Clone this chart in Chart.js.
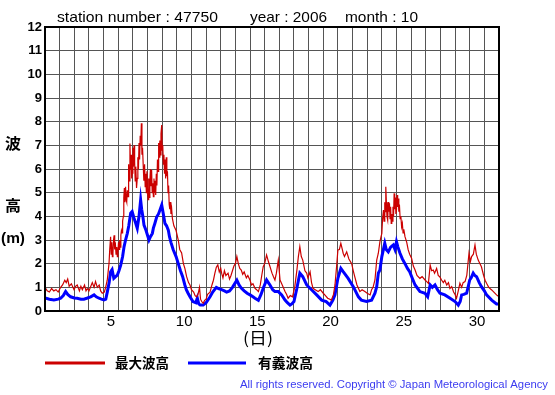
<!DOCTYPE html>
<html>
<head>
<meta charset="utf-8">
<script src="https://cdn.jsdelivr.net/npm/chart.js@4.4.1/dist/chart.umd.min.js"></script>
<style>
  html, body { margin: 0; padding: 0; background: #fff; }
  #wrap { width: 555px; height: 395px; }
</style>
</head>
<body>
<div id="wrap"><canvas id="waveChart" width="555" height="395"></canvas></div>
<script>
// Wave height, station 47750, October 2006 (time in days since Oct 1 00:00)
const seriesNames = ['最大波高', '有義波高'];
const xLabelDays = [5, 10, 15, 20, 25, 30];
const yTicks = [0, 1, 2, 3, 4, 5, 6, 7, 8, 9, 10, 11, 12];

const maxTimes = [
    0.0, 0.15, 0.3, 0.45, 0.6, 0.75, 0.9, 1.07, 1.2, 1.35, 1.45, 1.55, 1.65, 1.8, 1.98, 2.1, 2.2, 2.35, 2.45, 2.55, 2.7, 2.8, 2.89, 3.0, 3.1, 3.23, 3.35, 3.45, 3.57, 3.7, 3.8, 3.91, 4.05, 4.14, 4.25,
    4.37, 4.42, 4.48, 4.52, 4.56, 4.6, 4.64, 4.68, 4.72, 4.76, 4.8, 4.85, 4.9, 4.94, 4.98, 5.02, 5.06, 5.1, 5.14, 5.18, 5.22, 5.26, 5.3, 5.35, 5.38,
    5.42, 5.46, 5.5, 5.54, 5.58, 5.62, 5.67, 5.71, 5.75, 5.8,
    5.84, 5.88, 5.92, 5.96, 6.0, 6.04, 6.08, 6.12, 6.16, 6.2,
    6.25, 6.3, 6.34, 6.38, 6.42, 6.46, 6.5, 6.54, 6.58, 6.62,
    6.66, 6.71, 6.75, 6.8, 6.84, 6.88, 6.92, 6.96, 7.0, 7.04,
    7.08, 7.12, 7.16, 7.2, 7.24, 7.28, 7.32, 7.36, 7.4, 7.44,
    7.48, 7.52, 7.56, 7.6, 7.64, 7.68, 7.72, 7.76, 7.8, 7.84,
    7.88, 7.92, 7.97, 8.0, 8.04, 8.08, 8.12, 8.16, 8.2, 8.24,
    8.28, 8.32, 8.36, 8.4, 8.44, 8.48, 8.52, 8.56, 8.6, 8.65,
    8.7, 8.8, 8.95, 9.1, 9.2, 9.33, 9.45, 9.55, 9.67, 9.8, 9.9, 10.0, 10.15, 10.25, 10.35, 10.45, 10.55, 10.62, 10.7, 10.8, 10.9, 11.0, 11.1, 11.27, 11.4, 11.5, 11.6, 11.7, 11.8, 11.9, 12.0, 12.06, 12.15, 12.25, 12.35, 12.5, 12.6, 12.7, 12.8, 12.9, 13.0, 13.1, 13.2, 13.3, 13.4, 13.5, 13.6, 13.75, 13.85, 14.0, 14.1, 14.2, 14.34, 14.45, 14.57, 14.7, 14.8, 14.9, 15.0, 15.13, 15.25, 15.35, 15.5, 15.6, 15.7, 15.8, 15.93, 16.05, 16.2, 16.39, 16.5, 16.6, 16.75, 16.9, 17.05, 17.2, 17.3, 17.4, 17.5, 17.6, 17.75, 17.87, 17.95, 18.1, 18.2, 18.3, 18.45, 18.65, 18.8, 19.0, 19.15, 19.3, 19.45, 19.55, 19.7, 19.8, 19.9, 20.0, 20.1, 20.2, 20.3, 20.36, 20.45, 20.6, 20.75, 20.94, 21.05, 21.15, 21.3, 21.5, 21.65, 21.84, 22.0, 22.2, 22.3, 22.4, 22.53, 22.65, 22.76,
    22.87, 22.93, 23.0, 23.05, 23.11, 23.15, 23.2, 23.24, 23.27, 23.31,
    23.35, 23.4, 23.44, 23.48, 23.52, 23.56, 23.6, 23.64, 23.68, 23.72,
    23.76, 23.8, 23.84, 23.88, 23.92, 23.96, 24.0, 24.04, 24.08, 24.12,
    24.16, 24.2, 24.25, 24.3, 24.35, 24.4, 24.45, 24.5,
    24.58, 24.7, 24.8, 24.9, 25.03, 25.15, 25.27, 25.4, 25.6, 25.75, 25.95, 26.05, 26.18, 26.3, 26.4, 26.51, 26.6, 26.74, 26.85, 26.95, 27.08, 27.2, 27.3, 27.43, 27.55, 27.65, 27.77, 27.9, 28.0, 28.1, 28.2, 28.33, 28.45, 28.55, 28.68, 28.8, 28.95, 29.05, 29.13, 29.25, 29.36, 29.45, 29.58, 29.7, 29.8, 29.95, 30.05, 30.15, 30.3, 30.5, 30.65, 30.83, 31.0
];
const maxValues = [
    1.0, 0.85, 0.8, 0.95, 0.85, 0.9, 0.8, 1.0, 1.1, 1.3, 1.2, 1.35, 1.05, 1.15, 0.9, 1.05, 1.1, 0.85, 1.05, 0.9, 1.1, 0.85, 0.95, 0.85, 1.0, 1.2, 1.0, 1.25, 1.0, 1.1, 0.85, 0.75, 0.8, 1.0, 1.3,
    2.0, 2.6, 3.14, 2.4, 2.9, 2.3, 2.44, 3.0, 3.2, 2.6, 2.9, 2.4, 2.7, 2.3, 2.5, 2.9, 2.6, 3.0, 2.7, 3.2, 3.4, 3.3, 3.8, 4.0, 4.8,
    5.2, 4.6, 5.25, 4.7, 4.6, 5.1, 4.83, 6.2, 5.5, 7.08,
    6.0, 6.6, 5.6, 5.82, 6.9, 6.1, 7.0, 6.3, 5.5, 6.1,
    5.2, 5.6, 6.5, 6.0, 7.1, 6.4, 7.4, 7.0, 7.93, 6.6,
    6.9, 6.1, 5.5, 6.2, 5.25, 5.8, 5.0, 5.9, 5.1, 4.7,
    5.6, 4.8, 5.5, 6.0, 5.3, 5.96, 5.0, 5.4, 4.83, 5.6,
    5.0, 5.5, 4.9, 5.8, 5.3, 6.4, 5.9, 7.1, 6.5, 7.2,
    6.6, 7.5, 7.86, 6.8, 7.0, 6.2, 6.6, 5.8, 6.4, 5.6,
    6.5, 5.7, 5.9, 5.0, 5.3, 4.5, 4.3, 4.6, 4.1, 4.3,
    3.9, 3.6, 3.4, 3.0, 2.6, 2.45, 2.0, 1.8, 1.45, 1.2, 1.1, 0.9, 0.8, 0.65, 0.6, 0.7, 1.0, 0.5, 0.4, 0.33, 0.45, 0.5, 0.7, 0.8, 1.1, 1.3, 1.6, 1.85, 1.95, 1.65, 1.8, 1.6, 1.4, 1.7, 1.5, 1.6, 1.35, 1.5, 1.7, 1.9, 2.0, 2.3, 2.0, 1.8, 1.73, 1.55, 1.65, 1.4, 1.5, 1.3, 1.1, 1.15, 0.96, 0.9, 0.82, 1.1, 1.5, 1.87, 2.0, 2.37, 2.1, 1.9, 1.6, 1.45, 1.31, 1.6, 2.15, 1.31, 1.1, 0.82, 0.7, 0.54, 0.65, 0.6, 1.0, 1.73, 2.3, 2.72, 2.3, 2.15, 1.7, 1.6, 1.4, 1.66, 1.2, 0.96, 0.9, 0.82, 0.9, 0.75, 0.65, 0.54, 0.5, 0.46, 0.7, 1.1, 1.8, 2.58, 2.6, 2.86, 2.6, 2.44, 2.3, 2.5, 2.2, 2.0, 1.7, 1.45, 1.1, 0.82, 0.9, 0.82, 0.75, 0.68, 0.9, 1.0, 1.31, 2.15, 2.44,
    2.93, 3.1, 3.28, 3.9, 4.27, 3.8, 4.6, 4.2, 5.25, 4.6,
    4.0, 3.84, 4.6, 4.2, 4.55, 3.9, 4.4, 3.7, 4.1, 3.8,
    4.4, 4.0, 4.97, 4.3, 4.8, 4.1, 4.27, 4.9, 4.4, 4.75,
    4.2, 4.5, 3.9, 4.0, 3.56, 3.7, 3.3, 3.45,
    3.14, 2.9, 2.58, 2.4, 2.23, 1.9, 1.73, 1.5, 1.38, 1.45, 1.31, 1.25, 1.17, 1.94, 1.7, 1.73, 1.6, 1.8, 1.5, 1.45, 1.31, 1.2, 1.3, 1.1, 1.2, 0.95, 1.03, 0.8, 0.7, 0.54, 0.8, 1.17, 1.0, 1.2, 1.24, 1.5, 2.44, 2.1, 2.3, 2.4, 2.79, 2.4, 2.15, 2.0, 1.87, 1.5, 1.3, 1.17, 1.0, 0.89, 0.8, 0.68, 0.6
];

const sigTimes = [0.0, 0.3, 0.61, 0.9, 1.07, 1.25, 1.41, 1.55, 1.75, 2.0, 2.2, 2.45, 2.66, 2.9, 3.12, 3.35, 3.5, 3.69, 3.85, 4.03, 4.15, 4.26, 4.38, 4.48, 4.58, 4.7, 4.82, 4.94, 5.05, 5.17, 5.3, 5.4, 5.5, 5.62, 5.72, 5.85, 5.95, 6.08, 6.2, 6.3, 6.42, 6.53, 6.6, 6.68, 6.76, 6.9, 7.0, 7.1, 7.2, 7.33, 7.4, 7.5, 7.63, 7.75, 7.85, 7.97, 8.08, 8.19, 8.3, 8.42, 8.5, 8.6, 8.75, 8.95, 9.1, 9.25, 9.4, 9.55, 9.65, 9.77, 9.9, 10.1, 10.3, 10.4, 10.5, 10.6, 10.8, 11.0, 11.27, 11.45, 11.7, 11.85, 12.06, 12.25, 12.4, 12.6, 12.8, 13.1, 13.25, 13.4, 13.6, 13.8, 14.0, 14.2, 14.34, 14.57, 14.75, 14.9, 15.13, 15.25, 15.36, 15.55, 15.7, 15.93, 16.16, 16.39, 16.55, 16.73, 16.85, 17.0, 17.2, 17.4, 17.6, 17.87, 18.2, 18.55, 18.89, 19.2, 19.46, 19.65, 19.8, 20.0, 20.2, 20.36, 20.7, 21.05, 21.4, 21.6, 21.95, 22.3, 22.53, 22.65, 22.76, 22.87, 23.0, 23.2, 23.3, 23.44, 23.6, 23.78, 23.9, 24.0, 24.1, 24.24, 24.4, 24.58, 24.75, 24.9, 25.1, 25.27, 25.45, 25.6, 25.95, 26.13, 26.3, 26.45, 26.63, 26.8, 26.97, 27.3, 27.66, 28.0, 28.22, 28.35, 28.45, 28.6, 28.79, 29.0, 29.1, 29.24, 29.35, 29.47, 29.65, 29.8, 30.0, 30.15, 30.5, 30.83, 31.0];
const sigValues = [0.55, 0.5, 0.47, 0.5, 0.54, 0.65, 0.82, 0.7, 0.6, 0.55, 0.54, 0.5, 0.5, 0.55, 0.6, 0.68, 0.6, 0.54, 0.5, 0.47, 0.5, 0.82, 1.2, 1.66, 1.75, 1.38, 1.45, 1.52, 1.7, 1.94, 2.3, 2.72, 3.0, 3.28, 3.6, 4.13, 4.2, 3.92, 3.7, 3.5, 4.0, 4.69, 4.3, 4.0, 3.63, 3.4, 3.2, 3.0, 3.14, 3.28, 3.5, 3.7, 3.98, 4.1, 4.27, 4.48, 4.1, 3.7, 3.6, 3.42, 3.14, 2.9, 2.6, 2.3, 2.0, 1.7, 1.45, 1.1, 0.9, 0.75, 0.6, 0.4, 0.35, 0.55, 0.3, 0.25, 0.25, 0.35, 0.6, 0.8, 1.0, 0.95, 0.9, 0.85, 0.8, 0.85, 1.0, 1.3, 1.1, 0.97, 0.85, 0.75, 0.68, 0.6, 0.54, 0.45, 0.7, 0.96, 1.31, 1.2, 1.1, 0.9, 0.82, 0.82, 0.68, 0.46, 0.35, 0.25, 0.3, 0.4, 0.96, 1.6, 1.45, 1.1, 0.9, 0.68, 0.46, 0.4, 0.25, 0.45, 0.68, 1.38, 1.8, 1.66, 1.38, 1.03, 0.6, 0.46, 0.4, 0.46, 0.75, 1.03, 1.6, 1.73, 2.3, 2.86, 2.6, 2.5, 2.7, 2.79, 2.6, 2.93, 2.7, 2.44, 2.2, 2.0, 1.8, 1.66, 1.35, 1.1, 0.95, 0.82, 0.75, 0.6, 1.1, 1.0, 1.1, 0.9, 0.75, 0.68, 0.54, 0.4, 0.25, 0.4, 0.68, 0.7, 0.75, 1.31, 1.4, 1.6, 1.5, 1.45, 1.2, 1.03, 0.85, 0.68, 0.46, 0.3, 0.3];

const latin = '"Liberation Sans", Arial, sans-serif';
const cjk = '"Noto Sans CJK JP", "Noto Sans CJK SC", sans-serif';

function toPoints(times, values) {
    return times.map((t, i) => ({ x: t, y: values[i] }));
}

// Draw text stretched or squeezed to a given width
function fitText(ctx, text, x, y, w, align) {
    const m = ctx.measureText(text).width;
    const sx = w / m;
    ctx.save();
    ctx.textAlign = 'left';
    ctx.translate(align === 'center' ? x - w / 2 : x, y);
    ctx.scale(sx, 1);
    ctx.fillText(text, 0, 0);
    ctx.restore();
}

const decorPlugin = {
    id: 'decor',
    afterDraw(chart) {
        const ctx = chart.ctx;
        const area = chart.chartArea;
        ctx.save();

        // Frame
        ctx.strokeStyle = '#000';
        ctx.lineWidth = 2;
        ctx.strokeRect(area.left, area.top, area.right - area.left, area.bottom - area.top);

        // Title line
        ctx.fillStyle = '#000';
        ctx.textBaseline = 'alphabetic';
        ctx.font = '15px ' + latin;
        fitText(ctx, 'station number : 47750', 57, 22, 161);
        fitText(ctx, 'year : 2006', 250, 22, 77);
        fitText(ctx, 'month : 10', 345, 22, 73);

        // Y axis title (vertical)
        ctx.textBaseline = 'middle';
        ctx.font = 'bold 15px ' + cjk;
        fitText(ctx, '波', 13, 143, 16, 'center');
        fitText(ctx, '高', 13, 205, 16, 'center');
        ctx.font = 'bold 15px ' + latin;
        fitText(ctx, '(m)', 13, 239, 24, 'center');

        // X axis title
        ctx.font = '16px ' + cjk;
        fitText(ctx, '(日)', 258, 338, 30, 'center');

        // Legend
        const ds = chart.data.datasets;
        const legendItems = [
            { x: 45, w: 60, tx: 115, tw: 54 },
            { x: 188, w: 58, tx: 258, tw: 55 }
        ];
        legendItems.forEach((it, i) => {
            ctx.strokeStyle = ds[i].borderColor;
            ctx.lineWidth = 3;
            ctx.beginPath();
            ctx.moveTo(it.x, 363);
            ctx.lineTo(it.x + it.w, 363);
            ctx.stroke();
            ctx.fillStyle = '#000';
            ctx.font = 'bold 14px ' + cjk;
            fitText(ctx, ds[i].label, it.tx, 363, it.tw);
        });

        // Copyright
        ctx.fillStyle = '#3b3bf0';
        ctx.font = '10px ' + latin;
        fitText(ctx, 'All rights reserved. Copyright \u00a9 Japan Meteorological Agency', 240, 385, 308);

        ctx.restore();
    }
};

const canvas = document.getElementById('waveChart');
const ctx = canvas.getContext('2d');

new Chart(ctx, {
    type: 'line',
    data: {
        datasets: [
            {
                label: seriesNames[0],
                data: toPoints(maxTimes, maxValues),
                borderColor: '#cc0000',
                borderWidth: 1.2,
                pointRadius: 0,
                tension: 0
            },
            {
                label: seriesNames[1],
                data: toPoints(sigTimes, sigValues),
                borderColor: '#0000ff',
                borderWidth: 3,
                pointRadius: 0,
                tension: 0
            }
        ]
    },
    options: {
        responsive: false,
        animation: false,
        events: [],
        layout: { padding: { left: 0, right: 56, top: 27, bottom: 0 } },
        plugins: {
            legend: { display: false },
            title: { display: false },
            tooltip: { enabled: false }
        },
        scales: {
            x: {
                type: 'linear',
                min: 0,
                max: 31,
                afterBuildTicks: function(scale) {
                    const ticks = [];
                    for (let d = 0; d <= 31; d++) ticks.push({ value: d });
                    xLabelDays.forEach(d => ticks.push({ value: d - 0.5 }));
                    ticks.sort((a, b) => a.value - b.value);
                    scale.ticks = ticks;
                },
                afterFit: function(scale) { scale.height = 84; },
                grid: {
                    drawTicks: false,
                    color: c => (c.tick && c.tick.value % 1 === 0) ? '#555' : 'rgba(0,0,0,0)',
                    lineWidth: 1
                },
                border: { display: true, color: '#000', width: 2 },
                ticks: {
                    autoSkip: false,
                    maxRotation: 0,
                    padding: 2,
                    color: '#000',
                    font: { family: latin, size: 15 },
                    callback: function(value) {
                        return value % 1 === 0 ? '' : String(value + 0.5);
                    }
                }
            },
            y: {
                min: yTicks[0],
                max: yTicks[yTicks.length - 1],
                afterBuildTicks: function(scale) {
                    scale.ticks = yTicks.map(v => ({ value: v }));
                },
                afterFit: function(scale) { scale.width = 45; },
                grid: { drawTicks: false, color: '#555', lineWidth: 1 },
                border: { display: true, color: '#000', width: 2 },
                ticks: {
                    padding: 3,
                    color: '#000',
                    font: { family: latin, size: 13, weight: 'bold' }
                }
            }
        }
    },
    plugins: [decorPlugin]
});
</script>
</body>
</html>
